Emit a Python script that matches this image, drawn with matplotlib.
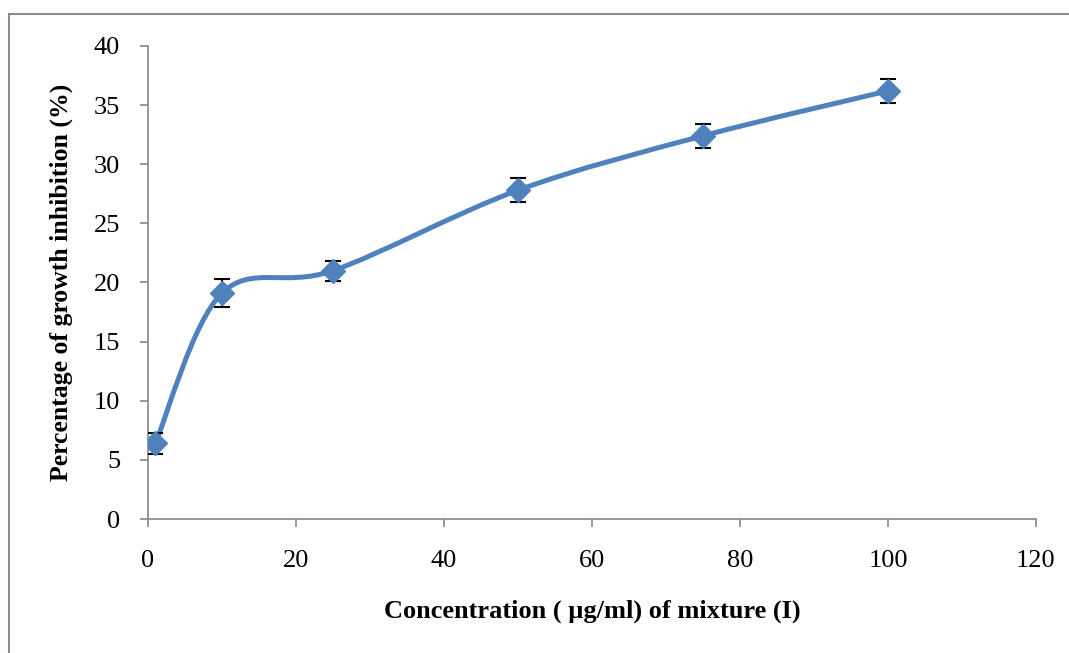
import numpy as np
import matplotlib
matplotlib.use("Agg")
import matplotlib.pyplot as plt
from matplotlib.path import Path
from matplotlib.patches import PathPatch, Rectangle

# concentration (ug/ml) vs growth inhibition (%) with error bars
conc = [1, 10, 25, 50, 75, 100]
inhibition = [6.4, 19.1, 21.0, 27.8, 32.4, 36.2]
err = [0.9, 1.2, 0.85, 1.0, 1.0, 1.0]

line_color = '#4F81BD'
axis_color = '#868686'

plt.rcParams['font.family'] = ['Liberation Serif', 'DejaVu Serif']

fig = plt.figure(figsize=(10.69, 6.53), dpi=100)
ax = fig.add_axes([0.1384, 0.2052, 0.8307, 0.7244])

# outer chart frame
fig.patches.append(Rectangle((9 / 1069, -0.1), 1.2, 1 - 13.5 / 653 + 0.1,
                             transform=fig.transFigure, fill=False,
                             edgecolor='#8c8c8c', linewidth=1.5))

# smoothed line (cardinal spline as cubic bezier segments)
pts = np.column_stack([conc, inhibition]).astype(float)
n = len(pts)
verts = [tuple(pts[0])]
codes = [Path.MOVETO]
for i in range(n - 1):
    p0 = pts[i - 1] if i > 0 else pts[i]
    p1 = pts[i]
    p2 = pts[i + 1]
    p3 = pts[i + 2] if i + 2 < n else pts[i + 1]
    c1 = p1 + (p2 - p0) / 6
    c2 = p2 - (p3 - p1) / 6
    verts += [tuple(c1), tuple(c2), tuple(p2)]
    codes += [Path.CURVE4] * 3
ax.add_patch(PathPatch(Path(verts, codes), facecolor='none',
                       edgecolor=line_color, linewidth=3.6,
                       capstyle='round', zorder=2))

ax.errorbar(conc, inhibition, yerr=err, fmt='none', ecolor='black',
            elinewidth=1.3, capsize=6, capthick=1.5, zorder=3)
ax.plot(conc, inhibition, linestyle='none', marker='D', markersize=12.5,
        color=line_color, markeredgecolor=line_color, zorder=4)

ax.set_xlim(0, 120)
ax.set_ylim(0, 40)
ax.set_xticks(range(0, 121, 20))
ax.set_yticks(range(0, 41, 5))

for s in ['top', 'right']:
    ax.spines[s].set_visible(False)
for s in ['left', 'bottom']:
    ax.spines[s].set_color(axis_color)
    ax.spines[s].set_linewidth(1.2)

ax.tick_params(axis='both', colors=axis_color, length=6, width=1.2,
               labelsize=19, labelcolor='black')
ax.tick_params(axis='x', pad=16)
ax.tick_params(axis='y', pad=14)

ax.set_xlabel('Concentration ( \u00b5g/ml) of mixture (I)', fontsize=19,
              fontweight='bold', labelpad=20)
ax.set_ylabel('Percentage of growth inhibition (%)', fontsize=18.5,
              fontweight='bold', labelpad=15)

fig.savefig('out.png', dpi=100)
